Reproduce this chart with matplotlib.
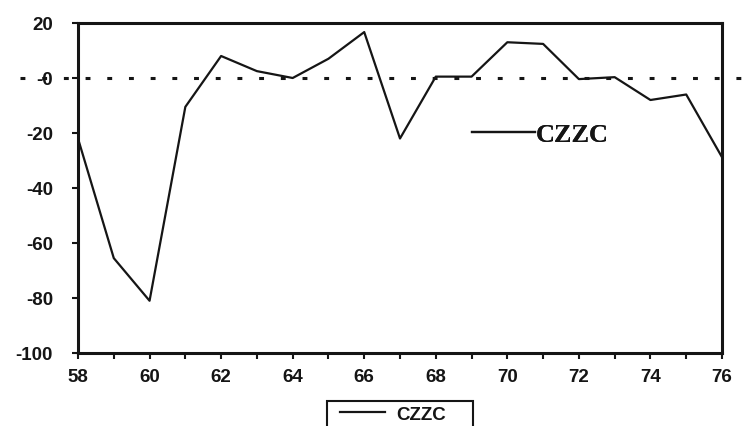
import matplotlib.pyplot as plt
from matplotlib.patches import Rectangle

years = [58, 59, 60, 61, 62, 63, 64, 65, 66, 67, 68, 69, 70, 71, 72, 73, 74, 75, 76]
czzc = [-22, -65.5, -81, -10.5, 8, 2.5, 0, 7, 16.7, -22, 0.5, 0.5, 13, 12.4, -0.4, 0.3, -8, -6, -28.8]
yticks = [20, 0, -20, -40, -60, -80, -100]
ylabels = ["20", "-0", "-20", "-40", "-60", "-80", "-100"]
xticks = [58, 60, 62, 64, 66, 68, 70, 72, 74, 76]

ink = "#151515"
W, H = 752, 427

fig = plt.figure(figsize=(7.52, 4.27), dpi=100)
ax = fig.add_axes([78 / W, 1 - 354 / H, 644 / W, 330 / H])

line, = ax.plot(years, czzc, color=ink, lw=1.6, label="CZZC")

# dotted zero line running past both axes edges
ax.plot([-58 / 644, 674 / 644], [0, 0], transform=ax.get_yaxis_transform(),
        color=ink, lw=2.2, dashes=(1.6, 5.5), clip_on=False)

ax.set_xlim(58, 76)
ax.set_ylim(-100, 20)
ax.set_yticks(yticks)
ax.set_yticklabels(ylabels)
ax.set_xticks(xticks)
ax.set_xticks(range(59, 76, 2), minor=True)

for s in ax.spines.values():
    s.set_linewidth(2.2)
    s.set_color(ink)

tickfont = dict(family="Liberation Sans", weight="bold", size=13.5)
ax.tick_params(axis="y", which="both", direction="out", length=4, width=1.5,
               pad=14, colors=ink)
ax.tick_params(axis="x", which="both", direction="out", length=4, width=1.5,
               pad=7, colors=ink)
for t in ax.get_xticklabels() + ax.get_yticklabels():
    t.set_fontproperties(tickfont)

# legend inside the plot
leg = ax.legend(handles=[line], loc="center left",
                bbox_to_anchor=(472 / W, 1 - 135 / H),
                bbox_transform=fig.transFigure, frameon=False,
                prop=dict(family="Liberation Serif", weight="bold", size=19),
                handlelength=2.4, handletextpad=0.0, borderpad=0,
                borderaxespad=0, labelcolor=ink)
ax.add_artist(leg)

# legend below the plot
fig.legend(handles=[line], loc="center left",
           bbox_to_anchor=(340 / W, 1 - 415 / H), frameon=False,
           prop=dict(family="Liberation Sans", weight="bold", size=13.5),
           handlelength=2.4, handletextpad=0.6, borderpad=0,
           borderaxespad=0, labelcolor=ink)
fig.patches.append(Rectangle((327 / W, 1 - 440 / H), 146 / W, 38 / H,
                             transform=fig.transFigure, fill=False,
                             edgecolor=ink, lw=1.5))

fig.savefig("out.png", dpi=100)
